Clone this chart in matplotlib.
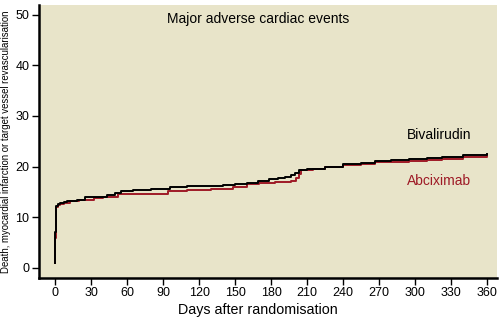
import matplotlib
matplotlib.use("Agg")
import matplotlib.pyplot as plt

# ---- data ----
biv_days = [0, 0, 0.3, 0.6, 1, 2, 4, 7, 10, 18,
            25, 33, 43, 50, 55, 65, 80, 96, 110, 125,
            140, 150, 160, 169, 178, 186, 192, 197, 200, 203,
            210, 225, 240, 255, 267, 280, 295, 310, 323, 340, 360]
biv_vals = [1, 7, 10, 12, 12.3, 12.6, 12.9, 13.1, 13.3, 13.4,
            14.0, 14.1, 14.4, 14.7, 15.2, 15.3, 15.5, 16.0, 16.1, 16.2,
            16.3, 16.5, 16.8, 17.2, 17.5, 17.8, 18.0, 18.3, 18.8, 19.3,
            19.6, 20.0, 20.5, 20.8, 21.1, 21.3, 21.6, 21.8, 22.0, 22.2, 22.4]
abc_days = [0, 0, 0.3, 0.6, 1, 2, 4, 7, 12, 20,
            32, 40, 52, 70, 94, 110, 130, 148, 160, 170,
            183, 197, 201, 203, 205, 215, 225, 240, 255, 267,
            280, 295, 310, 323, 340, 360]
abc_vals = [1, 6, 9.5, 11.8, 12.1, 12.4, 12.7, 12.9, 13.2, 13.5,
            13.9, 14.1, 14.6, 14.6, 15.2, 15.3, 15.5, 15.9, 16.6, 16.8,
            17.0, 17.2, 17.8, 18.5, 19.3, 19.6, 19.9, 20.3, 20.6, 20.9,
            21.0, 21.2, 21.4, 21.6, 21.9, 22.3]
x_ticks = list(range(0, 361, 30))
y_ticks = [0, 10, 20, 30, 40, 50]

BG = "#E8E4C9"
RED = "#9E1A26"
FONT = "Liberation Sans"

fig = plt.figure(figsize=(5.02, 3.19), dpi=100)
ax = fig.add_axes([0.078, 0.130, 0.912, 0.854])
ax.set_facecolor(BG)

ax.plot(abc_days, abc_vals, drawstyle="steps-post", color=RED, lw=1.4)
ax.plot(biv_days, biv_vals, drawstyle="steps-post", color="black", lw=1.4)

ax.set_xlim(-13.4, 368.5)
ax.set_ylim(-1.9, 51.9)
ax.set_xticks(x_ticks)
ax.set_yticks(y_ticks)
for s in ["top", "right"]:
    ax.spines[s].set_visible(False)
for s in ["left", "bottom"]:
    ax.spines[s].set_linewidth(1.8)
ax.tick_params(direction="out", length=5, width=1, labelsize=9, pad=2)
for lab in ax.get_xticklabels() + ax.get_yticklabels():
    lab.set_fontfamily(FONT)

ax.set_xlabel("Days after randomisation", fontsize=10.3, family=FONT)
ax.xaxis.set_label_coords(0.478, -0.092)
ax.set_ylabel("Death, myocardial infarction or target vessel revascularisation",
              fontsize=6.9, family=FONT, labelpad=3)

ax.text(0.478, 0.975, "Major adverse cardiac events", transform=ax.transAxes,
        ha="center", va="top", fontsize=10, family=FONT)
ax.text(293, 26.2, "Bivalirudin", ha="left", va="center", fontsize=10, family=FONT)
ax.text(293, 17.2, "Abciximab", ha="left", va="center", fontsize=10, family=FONT, color=RED)

fig.savefig("out.png", dpi=100, facecolor="white")
